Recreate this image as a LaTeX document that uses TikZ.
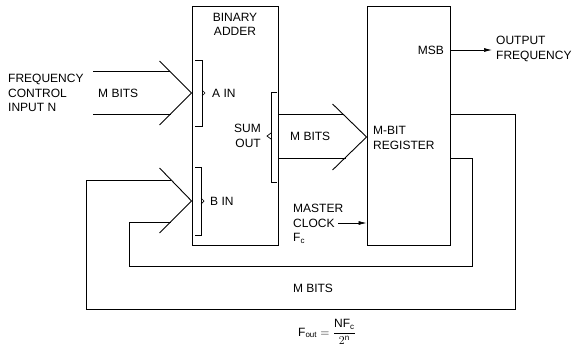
\documentclass[tikz,border=0pt]{standalone}
\usepackage{amsmath}
\usepackage{fontspec}
\setmainfont{Liberation Sans}
\usepackage{tikz}
\usetikzlibrary{arrows.meta,positioning,calc}

\begin{document}
\begin{tikzpicture}[x=1pt, y=-1pt,
    every node/.style={font=\fontsize{12}{14.5}\selectfont, inner sep=0pt, align=left},
    blk/.style={draw, line width=0.9pt, minimum width=86pt, minimum height=239pt},
    wire/.style={line width=0.9pt},
    brk/.style={line width=0.7pt},
    sig/.style={line width=0.7pt, -{Latex[length=8pt,width=4pt]}}
]
\useasboundingbox (0,0) rectangle (573,351);

% Blocks
\node[blk] (adder) at (235,125.5) {};
\node[blk, minimum width=83pt] (reg) at (408.5,125.5) {};
\node[align=center, below=7pt of adder.north] (addtitle) {BINARY\\ADDER};
\node[anchor=west] (regtitle) at (373,138) {M-BIT\\REGISTER};

% Bus tips on the blocks
\coordinate (ain)  at (adder.west |- 0,93);
\coordinate (bin)  at (adder.west |- 0,201);
\coordinate (sout) at (reg.west |- 0,137);

% Input bus -> A IN
\coordinate (fa1) at (93,71);
\coordinate (fa2) at (93,114);
\draw[wire] (fa1) -- ($(ain)+(-22,-22)$);
\draw[wire] (fa2) -- ($(ain)+(-21,21)$);
\draw[wire] ($(ain)+(-32,-32)$) -- (ain) -- ($(ain)+(-32,32)$);
\node[anchor=west] (fcin) at (8,93) {FREQUENCY\\CONTROL\\INPUT N};
\node[anchor=west] (abits) at (98,93) {M BITS};

% A IN / B IN brackets
\draw[brk] (195,60) -- (202,60) -- (202,126) -- (195,126);
\draw[brk] (202,90) -- (205,93) -- (202,96);
\node[anchor=west] (ainl) at (212,93) {A IN};
\draw[brk] (195,167) -- (201,167) -- (201,235) -- (195,235);
\draw[brk] (201,198) -- (204,201) -- (201,204);
\node[anchor=west] (binl) at (210,201) {B IN};

% SUM OUT bracket
\draw[brk] (277,92) -- (271,92) -- (271,182) -- (277,182);
\draw[brk] (271,133) -- (267,136) -- (271,139);
\node[anchor=east, align=right] (sumout) at (261,136) {SUM\\OUT};

% SUM OUT bus -> register
\draw[wire] (adder.east |- 0,114) -- ($(sout)+(-23,-23)$);
\draw[wire] (adder.east |- 0,158) -- ($(sout)+(-21,21)$);
\draw[wire] ($(sout)+(-34,-33)$) -- (sout) -- ($(sout)+(-34,33)$);
\node[anchor=west] (sbits) at (290,136) {M BITS};

% Output
\node[anchor=east] (msb) at (444,50) {MSB};
\coordinate (outend) at (492,50);
\draw[sig] (reg.east |- outend) -- (outend);
\node[anchor=west] (outf) at (496,49) {OUTPUT\\FREQUENCY};

% Master clock
\node[anchor=north west] (clk) at (293,204) {MASTER\\CLOCK\\F\textsubscript{c}};
\coordinate (clkst) at (338,223);
\draw[sig] (clkst) -- (clkst -| reg.west);

% Feedback loops -> B IN
\draw[wire] (reg.east |- 0,158) -- (472,158) -- (472,266) -- (129,266) -- (129,222) -- ($(bin)+(-21,21)$);
\draw[wire] (reg.east |- 0,114) -- (515,114) -- (515,309) -- (86,309) -- (86,180) -- ($(bin)+(-21,-21)$);
\draw[wire] ($(bin)+(-32,-33)$) -- (bin) -- ($(bin)+(-32,32)$);
\node (fbits) at (313,288) {M BITS};

% Formula
\node (formula) at (327,332) {$\mathrm{F_{out}} = \dfrac{\mathrm{NF_c}}{2^{\mathrm{n}}}$};
\end{tikzpicture}
\end{document}
